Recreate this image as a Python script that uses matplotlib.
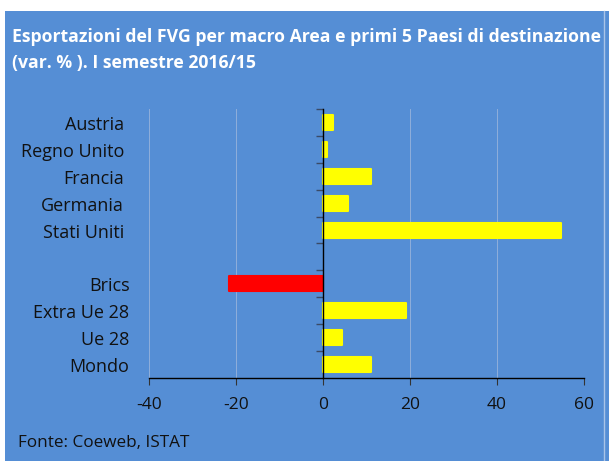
import matplotlib
matplotlib.use("Agg")
import matplotlib.pyplot as plt
from matplotlib.patches import Rectangle
from matplotlib.lines import Line2D
from matplotlib.transforms import offset_copy
import numpy as np

# ---- data ----
title_lines = ["Esportazioni del FVG per macro Area e primi 5 Paesi di destinazione",
               "(var. % ). I semestre 2016/15"]
countries = ["Austria", "Regno Unito", "Francia", "Germania", "Stati Uniti"]
country_values = [2.2, 0.9, 11.1, 5.7, 54.6]
areas = ["Brics", "Extra Ue 28", "Ue 28", "Mondo"]
area_values = [-21.7, 19.1, 4.4, 11.0]
x_ticks = [-40, -20, 0, 20, 40, 60]
source = "Fonte: Coeweb, ISTAT"

BG = "#558ED5"
YELLOW = "#FFFF00"
RED = "#FF0000"
FONT = "Open Sans"

W, H = 609, 461
fig = plt.figure(figsize=(W / 100, H / 100), dpi=100)
fig.patch.set_facecolor("white")

# blue panel
fig.patches.append(Rectangle((5 / W, 0), 1 - 5 / W, (H - 11) / H,
                             transform=fig.transFigure, facecolor=BG,
                             edgecolor="none", zorder=-10))
fig.lines.append(Line2D([604 / W, 604 / W], [0, (H - 11) / H],
                        transform=fig.transFigure, color="#A9C4E8", lw=1.0, zorder=-9))

# axes
left, right, top, bottom = 149, 584, 109, 378
ax = fig.add_axes([left / W, (H - bottom) / H, (right - left) / W, (bottom - top) / H])
ax.set_zorder(5)
ax.set_facecolor("none")

labels = countries + [""] + areas
values = country_values + [np.nan] + area_values
positions = np.arange(len(labels))
colors = [RED if (v < 0) else YELLOW for v in values]

ax.barh(positions, values, height=0.56, color=colors, edgecolor=colors,
        linewidth=1.5, joinstyle="round", zorder=1)

ax.set_xlim(x_ticks[0], x_ticks[-1])
ax.set_ylim(len(labels) - 0.5, -0.5)

ax.spines["top"].set_visible(False)
ax.spines["right"].set_visible(False)
ax.spines["left"].set_position(("data", 0))
ax.spines["left"].set_color("black")
ax.spines["left"].set_linewidth(1.0)
ax.spines["bottom"].set_color("black")
ax.spines["bottom"].set_linewidth(1.0)

ax.set_xticks(x_ticks)
ax.set_xticklabels([str(t) for t in x_ticks], fontsize=12.5, family=FONT, color="#111111")
ax.tick_params(axis="x", direction="out", length=5, width=0.8, color="#333333", pad=8.5)
ax.grid(axis="x", color="#8FAEDB", linewidth=0.7, zorder=0)
ax.set_axisbelow(True)

ax.set_yticks(positions)
ax.set_yticklabels([])
ax.tick_params(axis="y", which="major", length=0)
ax.set_yticks(np.arange(-0.5, len(labels) - 0.5, 1.0), minor=True)
ax.tick_params(axis="y", which="minor", direction="out", length=5, width=1.0, color="#3A4A66")

ytrans = offset_copy(ax.get_yaxis_transform(), fig=fig, x=0, y=-7.6, units="dots")
n_c = len(countries)
for p, lab in zip(positions, labels):
    if lab:
        xpos = -0.0575 if p < n_c else -0.045
        ax.text(xpos, p, lab, transform=ytrans, ha="right", va="baseline",
                fontsize=13, family=FONT, color="#111111")

# title
fig.text(12 / W, 1 - 37 / H, title_lines[0], ha="left", va="center",
         fontsize=12.7, fontweight="bold", family=FONT, color="white")
fig.text(12 / W, 1 - 63 / H, title_lines[1], ha="left", va="center",
         fontsize=12.7, fontweight="bold", family=FONT, color="white")

fig.text(18 / W, 1 - 443 / H, source, ha="left", va="center",
         fontsize=12.3, family=FONT, color="#111111")

fig.savefig("out.png", dpi=100, facecolor=fig.get_facecolor())
